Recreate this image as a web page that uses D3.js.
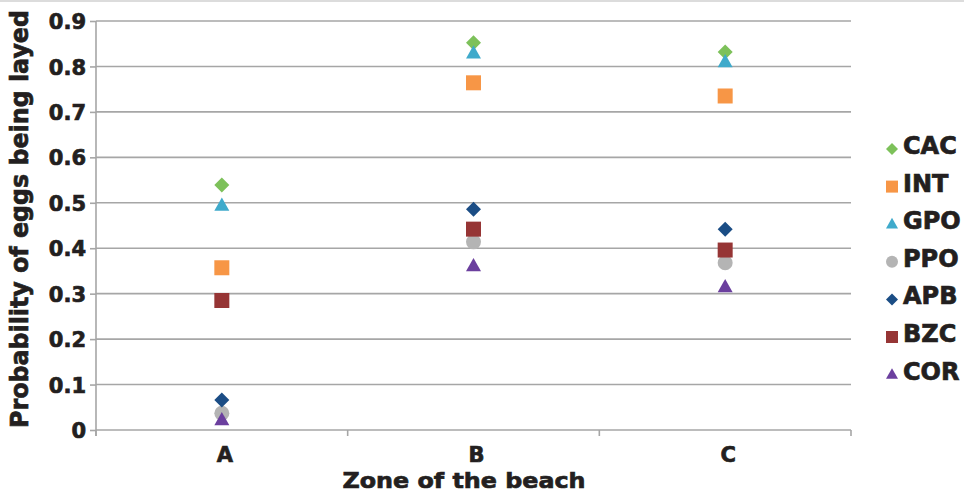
<!DOCTYPE html>
<html>
<head>
<meta charset="utf-8">
<script src="https://cdn.jsdelivr.net/npm/d3@7"></script>
<style>
  html, body { margin: 0; padding: 0; background: #fff; }
  svg { display: block; }
  text { font-family: "DejaVu Sans", sans-serif; font-weight: bold; fill: #231f20; stroke: #231f20; stroke-width: 0.7px; }
</style>
</head>
<body>
<svg id="chart" width="964" height="493"></svg>
<script>
// ---- Data ----
const zones = ["A", "B", "C"];
const seriesNames = ["CAC", "INT", "GPO", "PPO", "APB", "BZC", "COR"];
const CAC = [0.539, 0.852, 0.832];
const INT = [0.357, 0.764, 0.735];
const GPO = [0.494, 0.829, 0.810];
const PPO = [0.037, 0.414, 0.368];
const APB = [0.066, 0.486, 0.442];
const BZC = [0.285, 0.442, 0.396];
const COR = [0.022, 0.361, 0.315];
const yTicks = [0, 0.1, 0.2, 0.3, 0.4, 0.5, 0.6, 0.7, 0.8, 0.9];
const tickLabels = ["0", "0.1", "0.2", "0.3", "0.4", "0.5", "0.6", "0.7", "0.8", "0.9"];

const seriesValues = { CAC, INT, GPO, PPO, APB, BZC, COR };
const colors = { CAC: "#7dc15a", INT: "#f79646", GPO: "#3faacb", PPO: "#b4b4b4", APB: "#1b4d85", BZC: "#963535", COR: "#6b3f9e" };
const shapes = { CAC: "diamond", INT: "square", GPO: "triangle", PPO: "circle", APB: "diamond", BZC: "square", COR: "triangle" };

// ---- Layout ----
const svg = d3.select("#chart");
const margin = { left: 96, right: 113, top: 21, bottom: 63 };
const W = 964, H = 493;
const x = d3.scaleBand().domain(zones).range([margin.left, W - margin.right]);
const y = d3.scaleLinear().domain([0, 0.9]).range([H - margin.bottom, margin.top]);

function shapePath(shape, s) {
  const h = s / 2;
  switch (shape) {
    case "diamond": return `M0,${-h}L${h},0L0,${h}L${-h},0Z`;
    case "square": return `M${-h},${-h}H${h}V${h}H${-h}Z`;
    case "triangle": {
      const th = s * 0.88;
      return `M0,${-th * 0.6}L${h},${th * 0.4}L${-h},${th * 0.4}Z`;
    }
    case "circle": return `M${h},0A${h},${h} 0 1,1 ${-h},0A${h},${h} 0 1,1 ${h},0Z`;
  }
}
const markerSize = { diamond: 15, square: 15, triangle: 15, circle: 15 };

// top border line
svg.append("line").attr("x1", 0).attr("x2", W).attr("y1", 1).attr("y2", 1)
  .attr("stroke", "#d0d0d0").attr("stroke-width", 1.5);

// gridlines
svg.append("g").selectAll("line").data(yTicks.filter(d => d > 0)).join("line")
  .attr("x1", margin.left).attr("x2", W - margin.right)
  .attr("y1", d => y(d)).attr("y2", d => y(d))
  .attr("stroke", "#a6a6a6").attr("stroke-width", 1.6);

// y axis
const yAxis = d3.axisLeft(y).tickValues(yTicks).tickSize(6).tickPadding(4)
  .tickFormat((d, i) => tickLabels[i]);
const gy = svg.append("g").attr("transform", `translate(${margin.left},0)`).call(yAxis);
gy.select(".domain").attr("stroke", "#a6a6a6").attr("stroke-width", 1.6)
  .attr("d", `M0,${y(0) + 6}V${y(0.9)}`);
gy.selectAll(".tick line").attr("stroke", "#a6a6a6").attr("stroke-width", 1.6);
gy.selectAll(".tick text").attr("font-size", 21).attr("font-family", "DejaVu Sans")
  .attr("font-weight", "bold").attr("fill", "#231f20").attr("dy", "0.36em");

// x axis
const xAxis = d3.axisBottom(x).tickSize(0).tickPadding(17);
const gx = svg.append("g").attr("transform", `translate(0,${y(0)})`).call(xAxis);
gx.select(".domain").attr("stroke", "#a6a6a6").attr("stroke-width", 1.6)
  .attr("d", `M${margin.left},0H${W - margin.right}`);
gx.selectAll(".tick text").attr("font-size", 21).attr("font-family", "DejaVu Sans")
  .attr("font-weight", "bold").attr("fill", "#231f20").attr("dy", "0.71em").attr("dx", 3);
// band boundary ticks
const bounds = zones.map(z => x(z)).concat([x(zones[zones.length - 1]) + x.bandwidth()]);
gx.selectAll("line.bt").data(bounds).join("line").attr("class", "bt")
  .attr("x1", d => d).attr("x2", d => d).attr("y1", 0).attr("y2", 6)
  .attr("stroke", "#a6a6a6").attr("stroke-width", 1.6);

// markers
const plotG = svg.append("g");
seriesNames.forEach(name => {
  const shape = shapes[name];
  plotG.append("g").selectAll("path").data(seriesValues[name]).join("path")
    .attr("transform", (d, i) => `translate(${x(zones[i]) + x.bandwidth() / 2},${y(d)})`)
    .attr("d", shapePath(shape, markerSize[shape]))
    .attr("fill", colors[name]);
});

// axis titles
svg.append("text").attr("x", 464).attr("y", 488).attr("text-anchor", "middle")
  .attr("font-size", 22).attr("textLength", 243).attr("lengthAdjust", "spacingAndGlyphs")
  .text("Zone of the beach");
svg.append("text").attr("transform", "translate(28,219) rotate(-90)").attr("text-anchor", "middle")
  .attr("font-size", 24).attr("textLength", 418).attr("lengthAdjust", "spacingAndGlyphs")
  .text("Probability of eggs being layed");

// legend
const legend = svg.append("g");
seriesNames.forEach((name, i) => {
  const by = 154 + i * 37.6;
  const shape = shapes[name];
  legend.append("path").attr("transform", `translate(892,${by - 5})`)
    .attr("d", shapePath(shape, 12)).attr("fill", colors[name]);
  legend.append("text").attr("x", 903).attr("y", by).attr("font-size", 24).text(name);
});
</script>
</body>
</html>
